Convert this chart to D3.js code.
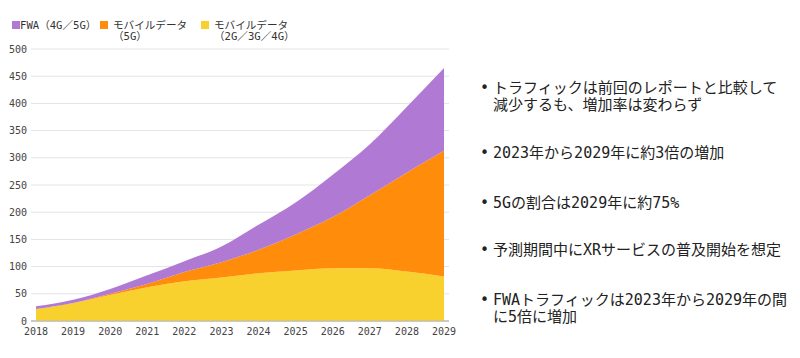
<!DOCTYPE html>
<html><head><meta charset="utf-8">
<script src="https://cdn.jsdelivr.net/npm/d3@7/dist/d3.min.js"></script>
<style>
body{margin:0;background:#fff;}
svg{display:block;font-family:"DejaVu Sans Mono","Noto Sans CJK JP",monospace;}
</style></head><body>
<svg id="c" width="800" height="358"></svg>
<script>
const years = [2018,2019,2020,2021,2022,2023,2024,2025,2026,2027,2028,2029];
const legacy = [22,33,48,62,73,80,88,93,97,97,91,82];
const nr5g   = [0,0,2,6,17,28,43,66,94,134,182,231];
const fwa    = [5,6,9,16,20,29,46,59,78,94,121,152];
const yTicks = [0,50,100,150,200,250,300,350,400,450,500];
const seriesNames = ["legacy","nr5g","fwa"];
const colors = {legacy:"#f9d12f", nr5g:"#ff8c0a", fwa:"#b07ad4"};
const legendItems = [
  {key:"fwa", lines:["FWA（4G／5G）"]},
  {key:"nr5g", lines:["モバイルデータ","（5G）"]},
  {key:"legacy", lines:["モバイルデータ","（2G／3G／4G）"]}
];
const bullets = [
  ["トラフィックは前回のレポートと比較して","減少するも、増加率は変わらず"],
  ["2023年から2029年に約3倍の増加"],
  ["5Gの割合は2029年に約75%"],
  ["予測期間中にXRサービスの普及開始を想定"],
  ["FWAトラフィックは2023年から2029年の間","に5倍に増加"]
];

const svg = d3.select("#c");
const x = d3.scaleLinear().domain([2018,2029]).range([36,444]);
const y = d3.scaleLinear().domain([0,500]).range([321,49]);

// grid
const g = svg.append("g");
g.selectAll("line.grid").data(yTicks).join("line")
  .attr("x1",31).attr("x2",449)
  .attr("y1",d=>y(d)).attr("y2",d=>y(d))
  .attr("stroke",d=>d===0?"#b8b8b8":"#e4e4e4").attr("stroke-width",1);
g.selectAll("text.yt").data(yTicks).join("text")
  .attr("x",27).attr("y",d=>y(d)).attr("dy","0.35em")
  .attr("text-anchor","end").attr("font-size",10).attr("fill","#444")
  .text(d=>d);

// stacked areas
const table = years.map((yr,i)=>({year:yr, legacy:legacy[i], nr5g:nr5g[i], fwa:fwa[i]}));
const stack = d3.stack().keys(seriesNames)(table);
const area = d3.area().curve(d3.curveMonotoneX)
  .x(d=>x(d.data.year)).y0(d=>y(d[0])).y1(d=>y(d[1]));
svg.append("g").selectAll("path").data(stack).join("path")
  .attr("d",area).attr("fill",d=>colors[d.key]);

// baseline over areas
svg.append("line").attr("x1",31).attr("x2",449).attr("y1",y(0)).attr("y2",y(0))
  .attr("stroke","#b8b8b8");

// x labels
svg.append("g").selectAll("text").data(years).join("text")
  .attr("x",d=>x(d)).attr("y",335).attr("text-anchor","middle")
  .attr("font-size",10).attr("fill","#444").text(d=>d);

// legend
const legX = [12,100,201];
const lg = svg.append("g");
legendItems.forEach((it,i)=>{
  lg.append("rect").attr("x",legX[i]).attr("y",21).attr("width",8).attr("height",8)
    .attr("fill",colors[it.key]);
  it.lines.forEach((t,j)=>{
    lg.append("text").attr("x",legX[i]+(i===0?8:13)).attr("y",29+j*10.5)
      .attr("font-size",10.6).attr("fill","#333").text(t);
  });
});

// bullets
const bY = [88,153,203,250,300];
const bg = svg.append("g");
bullets.forEach((lines,i)=>{
  bg.append("text").attr("x",480).attr("y",bY[i]).attr("dy","0.35em")
    .attr("font-size",15).attr("fill","#222").text("•");
  lines.forEach((t,j)=>{
    bg.append("text").attr("x",493).attr("y",bY[i]+j*17).attr("dy","0.35em")
      .attr("font-size",15).attr("fill","#222").text(t);
  });
});
</script></body></html>
